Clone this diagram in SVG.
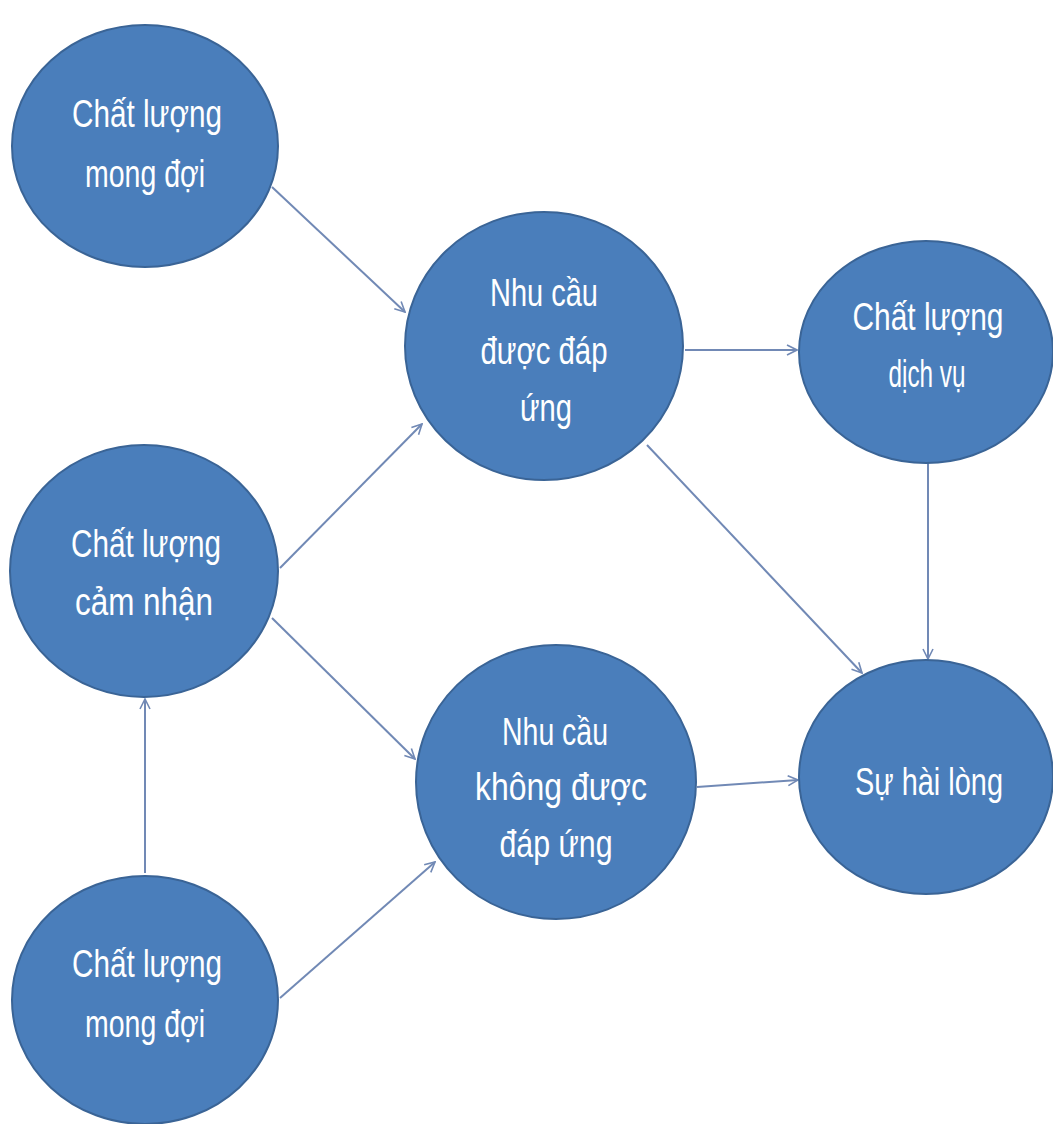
<svg xmlns="http://www.w3.org/2000/svg" width="1053" height="1124" viewBox="0 0 1053 1124">
  <style>
    .node { fill: #4a7ebb; stroke: #3a6496; stroke-width: 2; }
    .label { fill: #ffffff; font-family: "Liberation Sans", Arial, sans-serif; font-size: 38px; text-anchor: middle; }
    .edge { fill: none; stroke: #7189b5; stroke-width: 2; marker-end: url(#arrow); }
  </style>
  <defs>
    <marker id="arrow" viewBox="0 0 12 12" refX="11" refY="6" markerWidth="12" markerHeight="12" markerUnits="userSpaceOnUse" orient="auto">
      <path d="M1,1 L11,6 L1,11" fill="none" stroke="#7189b5" stroke-width="1.6"/>
    </marker>
  </defs>
  <rect width="1053" height="1124" fill="#ffffff"/>

  <g id="connectors">
    <line class="edge" x1="272" y1="187" x2="405" y2="312"/>
    <line class="edge" x1="280" y1="568" x2="422" y2="424"/>
    <line class="edge" x1="272" y1="618" x2="415" y2="759"/>
    <line class="edge" x1="280" y1="998" x2="435" y2="862"/>
    <line class="edge" x1="145" y1="873" x2="145" y2="699"/>
    <line class="edge" x1="685" y1="350" x2="797" y2="350"/>
    <line class="edge" x1="647" y1="445" x2="862" y2="673"/>
    <line class="edge" x1="928" y1="463" x2="928" y2="659"/>
    <line class="edge" x1="697" y1="787" x2="798" y2="780"/>
  </g>

  <g id="node-mong-doi-top">
    <ellipse class="node" cx="145" cy="146" rx="133" ry="121"/>
    <text class="label" x="147" y="127" textLength="150" lengthAdjust="spacingAndGlyphs">Chất lượng</text>
    <text class="label" x="145" y="187" textLength="120" lengthAdjust="spacingAndGlyphs">mong đợi</text>
  </g>

  <g id="node-duoc-dap-ung">
    <ellipse class="node" cx="544" cy="346" rx="139" ry="134"/>
    <text class="label" x="544" y="306" textLength="108" lengthAdjust="spacingAndGlyphs">Nhu cầu</text>
    <text class="label" x="544" y="364" textLength="127" lengthAdjust="spacingAndGlyphs">được đáp</text>
    <text class="label" x="546" y="421" textLength="52" lengthAdjust="spacingAndGlyphs">ứng</text>
  </g>

  <g id="node-dich-vu">
    <ellipse class="node" cx="926" cy="352" rx="127" ry="111"/>
    <text class="label" x="928" y="330" textLength="151" lengthAdjust="spacingAndGlyphs">Chất lượng</text>
    <text class="label" x="927" y="387" textLength="77" lengthAdjust="spacingAndGlyphs">dịch vụ</text>
  </g>

  <g id="node-cam-nhan">
    <ellipse class="node" cx="144" cy="571" rx="134" ry="126"/>
    <text class="label" x="146" y="557" textLength="150" lengthAdjust="spacingAndGlyphs">Chất lượng</text>
    <text class="label" x="144" y="615" textLength="138" lengthAdjust="spacingAndGlyphs">cảm nhận</text>
  </g>

  <g id="node-khong-duoc-dap-ung">
    <ellipse class="node" cx="556" cy="782" rx="140" ry="137"/>
    <text class="label" x="555" y="745" textLength="106" lengthAdjust="spacingAndGlyphs">Nhu cầu</text>
    <text class="label" x="561" y="800" textLength="172" lengthAdjust="spacingAndGlyphs">không được</text>
    <text class="label" x="556" y="857" textLength="113" lengthAdjust="spacingAndGlyphs">đáp ứng</text>
  </g>

  <g id="node-hai-long">
    <ellipse class="node" cx="926" cy="777" rx="127" ry="117"/>
    <text class="label" x="929" y="795" textLength="148" lengthAdjust="spacingAndGlyphs">Sự hài lòng</text>
  </g>

  <g id="node-mong-doi-bottom">
    <ellipse class="node" cx="145" cy="1000" rx="133" ry="124"/>
    <text class="label" x="147" y="977" textLength="150" lengthAdjust="spacingAndGlyphs">Chất lượng</text>
    <text class="label" x="145" y="1037" textLength="120" lengthAdjust="spacingAndGlyphs">mong đợi</text>
  </g>
</svg>
